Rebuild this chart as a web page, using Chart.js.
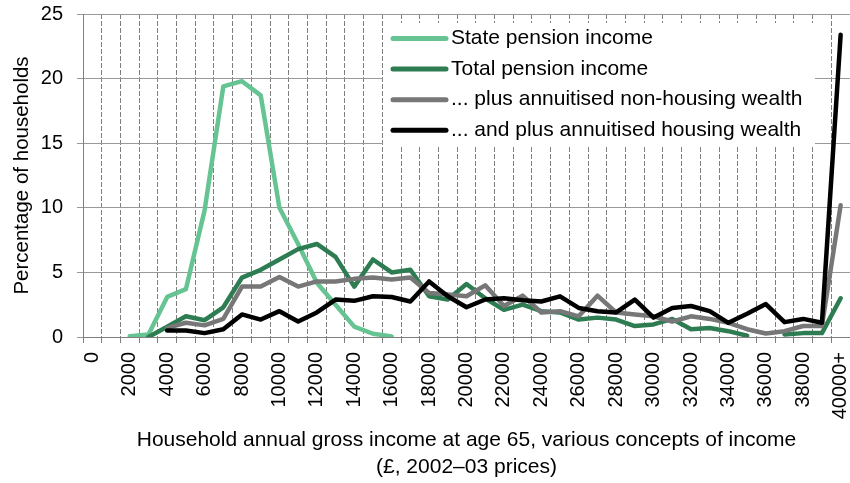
<!DOCTYPE html>
<html>
<head>
<meta charset="utf-8">
<script src="https://cdn.jsdelivr.net/npm/chart.js@4/dist/chart.umd.min.js"></script>
<style>
  html, body { margin: 0; padding: 0; background: #fff; overflow: hidden; }
</style>
</head>
<body>
<canvas id="chart" width="850" height="483"></canvas>
<script>
// income bands (£1000 steps), labels shown every other band
const incomeBands = ['0', '1000', '2000', '3000', '4000', '5000', '6000', '7000', '8000', '9000',
  '10000', '11000', '12000', '13000', '14000', '15000', '16000', '17000', '18000', '19000',
  '20000', '21000', '22000', '23000', '24000', '25000', '26000', '27000', '28000', '29000',
  '30000', '31000', '32000', '33000', '34000', '35000', '36000', '37000', '38000', '39000', '40000+'];

const yTicks = [0, 5, 10, 15, 20, 25];

// percentage of households in each band
const statePension = [null, null, 0.05, 0.2, 3.1, 3.7, 9.8, 19.4, 19.8, 18.7,
  10.0, 7.2, 4.2, 2.5, 0.8, 0.25, 0.05, null, null, null,
  null, null, null, null, null, null, null, null, null, null,
  null, null, null, null, null, null, null, null, null, null, null];

const totalPension = [null, null, null, 0, 0.8, 1.6, 1.3, 2.3, 4.6, 5.2,
  6.0, 6.8, 7.2, 6.2, 3.9, 6.0, 5.0, 5.2, 3.15, 2.9,
  4.1, 3.0, 2.1, 2.5, 2.0, 1.9, 1.35, 1.5, 1.35, 0.85,
  0.97, 1.4, 0.6, 0.7, 0.45, 0.1, null, 0.2, 0.3, 0.3, 3.0];

const plusNonHousing = [null, null, null, null, 0.7, 1.1, 0.9, 1.4, 3.9, 3.9,
  4.65, 3.9, 4.3, 4.3, 4.5, 4.6, 4.45, 4.6, 3.4, 3.3,
  3.15, 4.0, 2.4, 3.2, 1.9, 2.0, 1.6, 3.2, 1.9, 1.75,
  1.6, 1.2, 1.6, 1.4, 1.1, 0.6, 0.27, 0.45, 0.85, 0.85, 10.2];

const plusHousing = [null, null, null, null, 0.5, 0.5, 0.3, 0.6, 1.75, 1.35,
  2.0, 1.2, 1.9, 2.9, 2.8, 3.15, 3.1, 2.75, 4.3, 3.15,
  2.3, 2.9, 3.0, 2.85, 2.75, 3.15, 2.25, 2.0, 1.9, 2.9,
  1.5, 2.25, 2.4, 2.0, 1.1, 1.8, 2.55, 1.15, 1.4, 1.1, 23.4];

const FONT = '"Liberation Sans", Arial, sans-serif';
const GRID = '#7f7f7f';

function line(label, data, color, order) {
  return {
    label: label,
    data: data,
    borderColor: color,
    backgroundColor: color,
    borderWidth: 4.5,
    pointRadius: 0,
    tension: 0,
    fill: false,
    spanGaps: false,
    borderJoinStyle: 'round',
    borderCapStyle: 'round',
    order: order
  };
}

// legend box drawn over the grid, under the lines
const boxLegend = {
  id: 'boxLegend',
  beforeDatasetsDraw(chart) {
    const ctx = chart.ctx;
    ctx.save();
    ctx.fillStyle = '#fff';
    ctx.fillRect(383, 23, 432, 122);
    ctx.font = '21px ' + FONT;
    ctx.textBaseline = 'middle';
    ctx.textAlign = 'left';
    chart.data.datasets.forEach(function(ds, i) {
      const y = 38.5 + i * 30.6;
      ctx.strokeStyle = ds.borderColor;
      ctx.lineWidth = 5;
      ctx.lineCap = 'round';
      ctx.beginPath();
      ctx.moveTo(393, y);
      ctx.lineTo(446, y);
      ctx.stroke();
      ctx.fillStyle = '#000';
      ctx.fillText(ds.label, 451, y);
    });
    ctx.restore();
  }
};

new Chart(document.getElementById('chart'), {
  type: 'line',
  data: {
    labels: incomeBands,
    datasets: [
      line('State pension income', statePension, '#66c493', 4),
      line('Total pension income', totalPension, '#2e7d52', 3),
      line('... plus annuitised non-housing wealth', plusNonHousing, '#777777', 2),
      line('... and plus annuitised housing wealth', plusHousing, '#000000', 1)
    ]
  },
  options: {
    responsive: false,
    animation: false,
    devicePixelRatio: 1,
    layout: { padding: { top: 14, right: 0, bottom: 0, left: 0 } },
    plugins: {
      legend: { display: false },
      tooltip: { enabled: false }
    },
    scales: {
      x: {
        offset: true,
        grid: { color: GRID, offset: true, tickLength: 6, lineWidth: 1 },
        border: { color: GRID, width: 1, dash: [5, 2] },
        ticks: {
          autoSkip: false,
          minRotation: 90,
          maxRotation: 90,
          padding: 9,
          color: '#000',
          font: { family: FONT, size: 20 },
          callback: function(value, index) {
            return index % 2 === 0 ? incomeBands[index] : '';
          }
        },
        title: {
          display: true,
          text: ['Household annual gross income at age 65, various concepts of income', '(£, 2002–03 prices)'],
          color: '#000',
          font: { family: FONT, size: 21, lineHeight: 1.25 },
          padding: { top: 0, bottom: 3 }
        },
        afterFit: function(scale) {
          scale.height = 146;
          scale.paddingLeft = 0;
          scale.paddingRight = 0;
        }
      },
      y: {
        min: yTicks[0],
        max: yTicks[yTicks.length - 1],
        afterBuildTicks: function(scale) {
          scale.ticks = yTicks.map(v => ({ value: v }));
        },
        grid: { color: '#999999', tickLength: 6, lineWidth: 1 },
        border: { color: GRID, width: 1 },
        ticks: {
          padding: 14,
          color: '#000',
          font: { family: FONT, size: 20 }
        },
        title: {
          display: true,
          text: 'Percentage of households',
          color: '#000',
          font: { family: FONT, size: 20.5 },
          padding: { top: 10, bottom: 0 }
        },
        afterFit: function(scale) {
          scale.width = 83;
          scale.paddingTop = 0;
          scale.paddingBottom = 0;
        }
      }
    }
  },
  plugins: [boxLegend]
});
</script>
</body>
</html>
